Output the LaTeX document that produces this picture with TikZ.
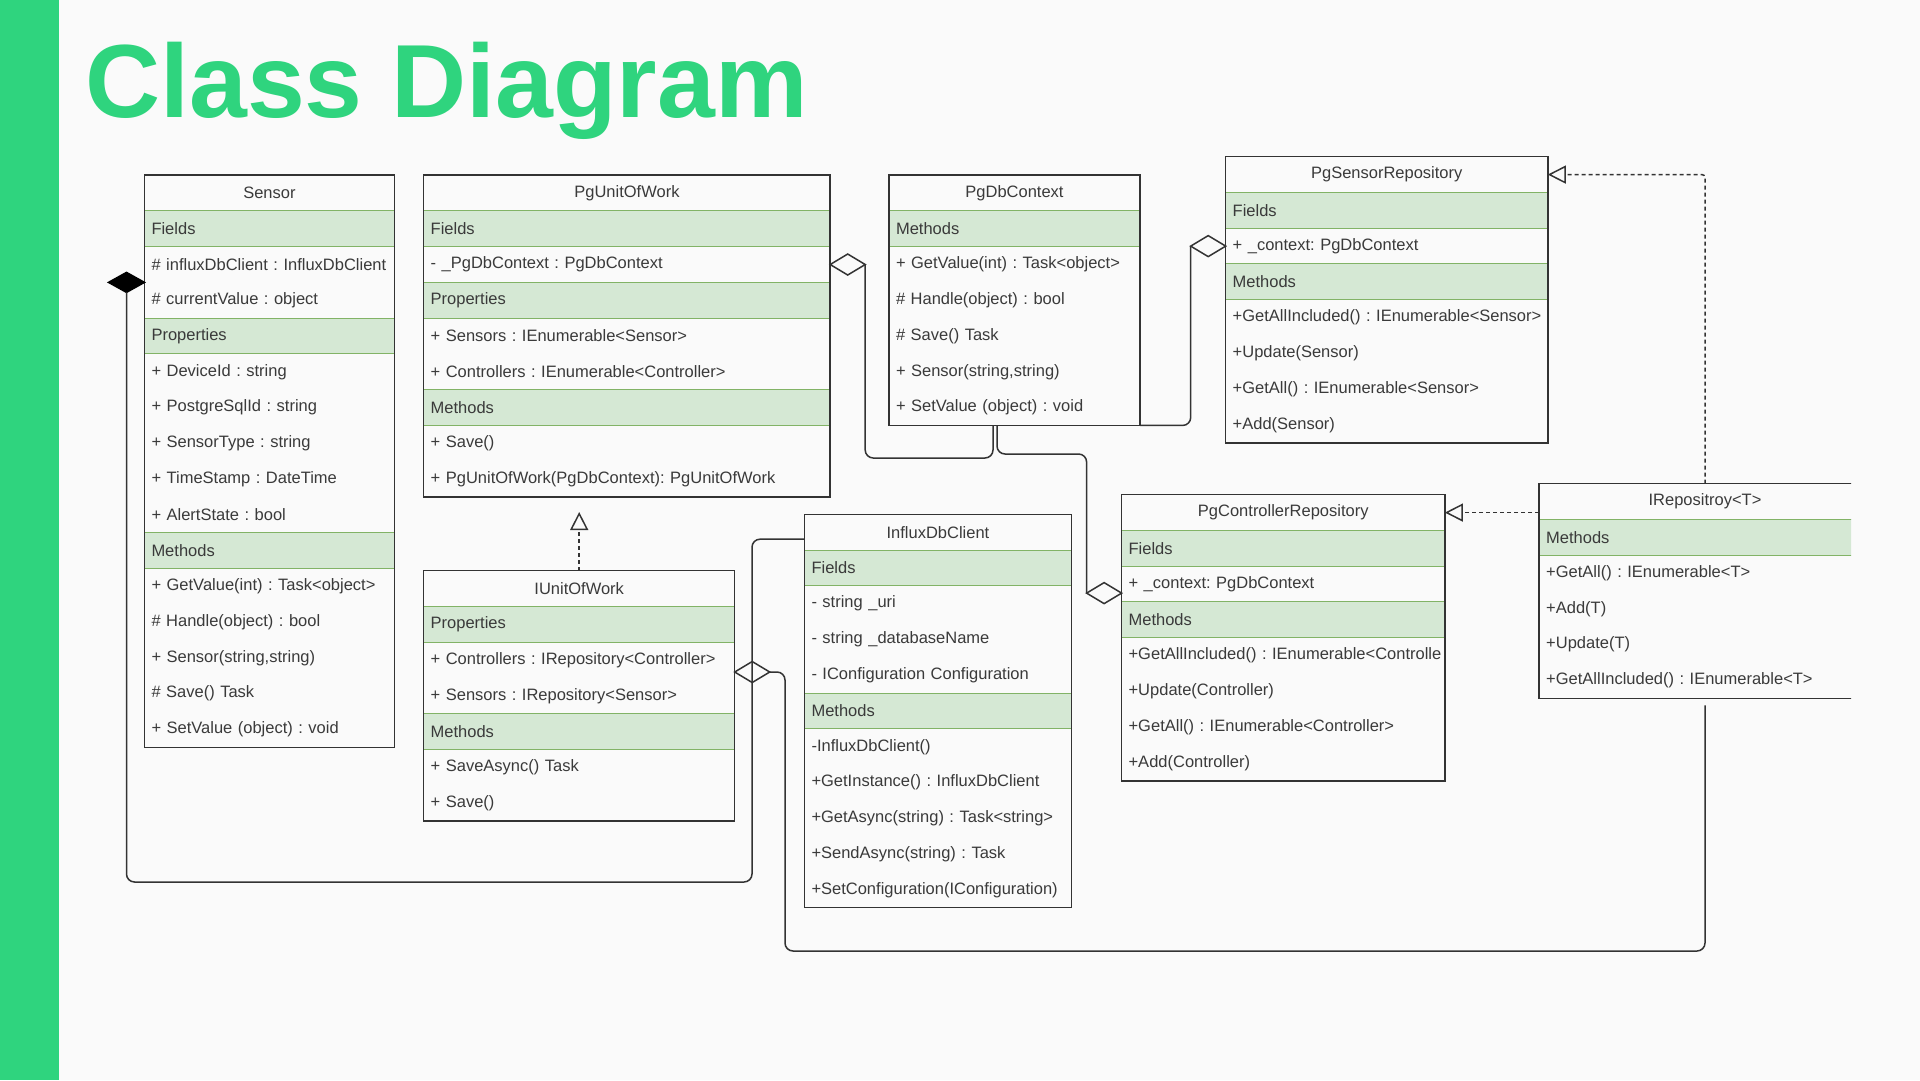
\documentclass[tikz,border=0pt]{standalone}
\usepackage{fontspec}
\setmainfont{Liberation Sans}
\usepackage{tikz}
\usetikzlibrary{%
  arrows.meta,%
  positioning,%
  shapes.geometric%
}
\frenchspacing
\definecolor{bg}{HTML}{FAFAFA}
\definecolor{titlegreen}{HTML}{2FD47E}
\definecolor{secfill}{HTML}{D5E8D4}
\definecolor{secline}{HTML}{82B366}
\definecolor{frm}{HTML}{333333}
\definecolor{txt}{HTML}{3A3A3A}
\newcommand{\cdrowfont}{\fontsize{16.5}{19}\selectfont}
\newcommand{\cdtitlefont}{\fontsize{104}{110}\selectfont\bfseries}
\tikzset{>=latex,%
  cdrow/.style={minimum height=35.76pt,inner xsep=7pt,inner ysep=0pt,
    outer sep=0pt,text=txt,font=\cdrowfont,anchor=north},
  hdr/.style={cdrow,align=center},
  sect/.style={cdrow,align=left,fill=secfill,draw=secline,line width=1pt},
  item/.style={cdrow,align=left},
  frame/.style={draw=frm,line width=1.5pt},
  conn/.style={draw=frm,line width=1.5pt,rounded corners=8pt},
  real/.style={conn,dash pattern=on 4pt off 3pt,
    -{Triangle[open,length=18pt,width=18pt]}},
  aggr/.style={diamond,draw=frm,fill=bg,line width=1.5pt,minimum width=35pt,
    minimum height=21pt,inner sep=0pt,outer sep=0pt},
  compo/.style={aggr,fill=black,draw=black,minimum width=36pt,minimum height=20pt}}

\begin{document}
\begin{tikzpicture}[x=1pt,y=-1pt]
  \useasboundingbox (0,0) rectangle (1920,1080);
  \fill[bg] (0,0) rectangle (1920,1080);
  \fill[titlegreen] (0,0) rectangle (59,1080);
  \node[anchor=base west,inner sep=0pt,font=\cdtitlefont,text=titlegreen]
    (title) at (85,117) {Class Diagram};

  % Sensor
  \begin{scope}[nodes={text width=235.8pt}]
    \node[hdr,anchor=north west] (sensor) at (144.5,175.1) {Sensor};
    \node[sect,below=0pt of sensor] (sensorF0) {Fields};
    \foreach \t [count=\i, remember=\i as \j (initially 0)] in
      {\# influxDbClient : InfluxDbClient, \# currentValue : object}
      \node[item,below=0pt of sensorF\j] (sensorF\i) {\mbox{\t}};
    \node[sect,below=0pt of sensorF2] (sensorP0) {Properties};
    \foreach \t [count=\i, remember=\i as \j (initially 0)] in
      {+ DeviceId : string, + PostgreSqlId : string, + SensorType : string,
       + TimeStamp : DateTime, + AlertState : bool}
      \node[item,below=0pt of sensorP\j] (sensorP\i) {\mbox{\t}};
    \node[sect,below=0pt of sensorP5] (sensorM0) {Methods};
    \foreach \t [count=\i, remember=\i as \j (initially 0)] in
      {+ GetValue(int) : Task<object>, \# Handle(object) : bool,
       {+ Sensor(string,string)}, \# Save() Task, + SetValue (object) : void}
      \node[item,below=0pt of sensorM\j] (sensorM\i) {\mbox{\t}};
    \draw[frame] (sensor.north west) rectangle (sensorM5.south east);
  \end{scope}

  % PgUnitOfWork
  \begin{scope}[nodes={text width=392.5pt}]
    \node[hdr,anchor=north west] (uow) at (423.7,175.1) {PgUnitOfWork};
    \node[sect,below=0pt of uow] (uowF0) {Fields};
    \node[item,below=0pt of uowF0] (uowF1) {- \_PgDbContext : PgDbContext};
    \node[sect,below=0pt of uowF1] (uowP0) {Properties};
    \foreach \t [count=\i, remember=\i as \j (initially 0)] in
      {+ Sensors : IEnumerable<Sensor>, + Controllers : IEnumerable<Controller>}
      \node[item,below=0pt of uowP\j] (uowP\i) {\mbox{\t}};
    \node[sect,below=0pt of uowP2] (uowM0) {Methods};
    \foreach \t [count=\i, remember=\i as \j (initially 0)] in
      {+ Save(), + PgUnitOfWork(PgDbContext): PgUnitOfWork}
      \node[item,below=0pt of uowM\j] (uowM\i) {\mbox{\t}};
    \draw[frame] (uow.north west) rectangle (uowM2.south east);
  \end{scope}

  % PgDbContext
  \begin{scope}[nodes={text width=237pt}]
    \node[hdr,anchor=north west] (dbctx) at (889,175.1) {PgDbContext};
    \node[sect,below=0pt of dbctx] (dbctxM0) {Methods};
    \foreach \t [count=\i, remember=\i as \j (initially 0)] in
      {+ GetValue(int) : Task<object>, \# Handle(object) : bool, \# Save() Task,
       {+ Sensor(string,string)}, + SetValue (object) : void}
      \node[item,below=0pt of dbctxM\j] (dbctxM\i) {\mbox{\t}};
    \draw[frame] (dbctx.north west) rectangle (dbctxM5.south east);
  \end{scope}

  % PgSensorRepository
  \begin{scope}[nodes={text width=308.1pt}]
    \node[hdr,anchor=north west] (srepo) at (1225.7,156.7) {PgSensorRepository};
    \node[sect,below=0pt of srepo] (srepoF0) {Fields};
    \node[item,below=0pt of srepoF0] (srepoF1) {+ \_context: PgDbContext};
    \node[sect,below=0pt of srepoF1] (srepoM0) {Methods};
    \foreach \t [count=\i, remember=\i as \j (initially 0)] in
      {+GetAllIncluded() : IEnumerable<Sensor>, +Update(Sensor),
       +GetAll() : IEnumerable<Sensor>, +Add(Sensor)}
      \node[item,below=0pt of srepoM\j] (srepoM\i) {\mbox{\t}};
    \draw[frame] (srepo.north west) rectangle (srepoM4.south east);
  \end{scope}

  % IUnitOfWork
  \begin{scope}[nodes={text width=297pt}]
    \node[hdr,anchor=north west] (iuow) at (423.7,570.6) {IUnitOfWork};
    \node[sect,below=0pt of iuow] (iuowP0) {Properties};
    \foreach \t [count=\i, remember=\i as \j (initially 0)] in
      {+ Controllers : IRepository<Controller>, + Sensors : IRepository<Sensor>}
      \node[item,below=0pt of iuowP\j] (iuowP\i) {\mbox{\t}};
    \node[sect,below=0pt of iuowP2] (iuowM0) {Methods};
    \foreach \t [count=\i, remember=\i as \j (initially 0)] in
      {+ SaveAsync() Task, + Save()}
      \node[item,below=0pt of iuowM\j] (iuowM\i) {\mbox{\t}};
    \draw[frame] (iuow.north west) rectangle (iuowM2.south east);
  \end{scope}

  % InfluxDbClient
  \begin{scope}[nodes={text width=252.9pt}]
    \node[hdr,anchor=north west] (influx) at (804.5,514.3) {InfluxDbClient};
    \node[sect,below=0pt of influx] (influxF0) {Fields};
    \foreach \t [count=\i, remember=\i as \j (initially 0)] in
      {- string \_uri, - string \_databaseName, - IConfiguration Configuration}
      \node[item,below=0pt of influxF\j] (influxF\i) {\mbox{\t}};
    \node[sect,below=0pt of influxF3] (influxM0) {Methods};
    \foreach \t [count=\i, remember=\i as \j (initially 0)] in
      {-InfluxDbClient(), +GetInstance() : InfluxDbClient,
       +GetAsync(string) : Task<string>, +SendAsync(string) : Task,
       +SetConfiguration(IConfiguration)}
      \node[item,below=0pt of influxM\j] (influxM\i) {\mbox{\t}};
    \draw[frame] (influx.north west) rectangle (influxM5.south east);
  \end{scope}

  % PgControllerRepository
  \begin{scope}[nodes={text width=309.3pt}]
    \node[hdr,anchor=north west] (ctrl) at (1121.6,494.7) {PgControllerRepository};
    \node[sect,below=0pt of ctrl] (ctrlF0) {Fields};
    \node[item,below=0pt of ctrlF0] (ctrlF1) {+ \_context: PgDbContext};
    \node[sect,below=0pt of ctrlF1] (ctrlM0) {Methods};
    \foreach \t [count=\i, remember=\i as \j (initially 0)] in
      {+GetAllIncluded() : IEnumerable<Controlle, +Update(Controller),
       +GetAll() : IEnumerable<Controller>, +Add(Controller)}
      \node[item,below=0pt of ctrlM\j] (ctrlM\i) {\mbox{\t}};
    \draw[frame] (ctrl.north west) rectangle (ctrlM4.south east);
  \end{scope}

  % IRepositroy<T>, cut at the right edge
  \begin{scope}[nodes={text width=317.6pt}]
    \clip (1530,470) rectangle (1851,720);
    \node[hdr,anchor=north west] (irepo) at (1539.2,483.7) {IRepositroy<T>};
    \node[sect,below=0pt of irepo] (irepoM0) {Methods};
    \foreach \t [count=\i, remember=\i as \j (initially 0)] in
      {+GetAll() : IEnumerable<T>, +Add(T), +Update(T),
       +GetAllIncluded() : IEnumerable<T>}
      \node[item,below=0pt of irepoM\j] (irepoM\i) {\mbox{\t}};
    \draw[frame] (irepo.north west) rectangle (irepoM4.south east);
  \end{scope}

  % diamonds
  \node[compo,anchor=east] (dSensor) at (sensorF1.south west) {};
  \node[aggr,anchor=west] (dUow) at (uowF1.east) {};
  \node[aggr,anchor=east] (dSrepo) at (srepoF1.west) {};
  \node[aggr,anchor=east] (dCtrl) at ([yshift=-9pt]ctrlF1.west) {};
  \node[aggr,anchor=west] (dIuow) at ([yshift=-12pt]iuowP1.east) {};
  \coordinate (uowTip) at ([yshift=58.6pt]iuow.north);
  \coordinate (irepoEnd) at ([yshift=-7pt]irepoM4.south);

  % connectors
  \draw[conn] (dSensor.south) |- (752,882) |- ([yshift=-7pt]influx.west);
  \draw[conn] (dUow.east) |- (993,458) -- ([xshift=-21.5pt]dbctxM5.south);
  \draw[conn] ([xshift=-17.5pt]dbctxM5.south) |- (dCtrl.west |- 0,454)
    -- (dCtrl.west);
  \draw[conn] (dSrepo.west) |- (dbctxM5.south east);
  \draw[conn] (dIuow.east) -| (785,951) -| (irepoEnd);
  \draw[real] (iuow.north) -- (uowTip);
  \draw[real] (irepo.west |- ctrl.east) -- (ctrl.east);
  \draw[real,rounded corners=3pt] (irepo.north) |- (srepo.east);
\end{tikzpicture}
\end{document}
